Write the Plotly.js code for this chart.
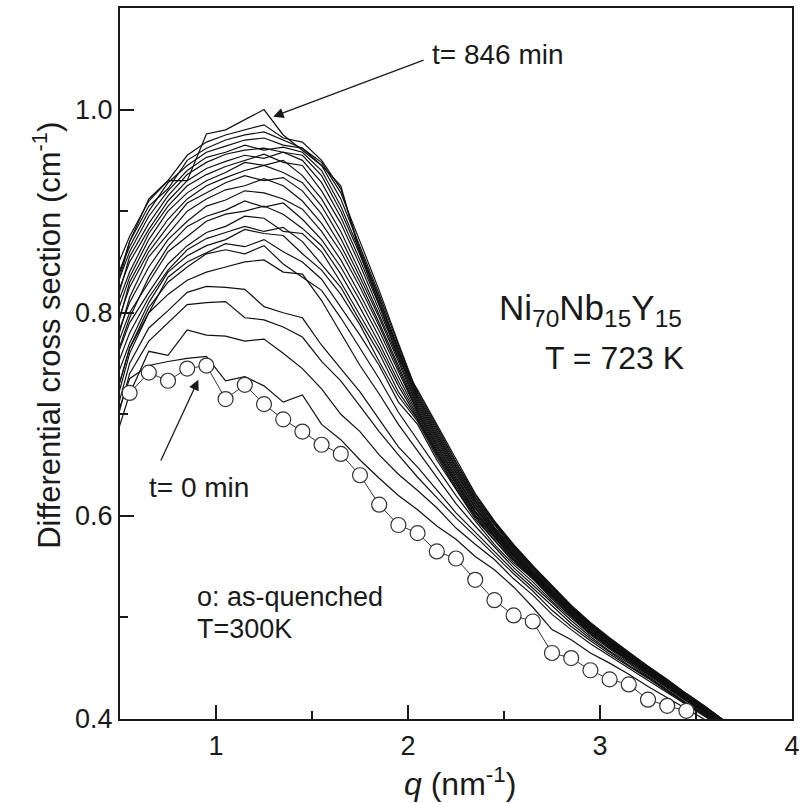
<!DOCTYPE html>
<html><head><meta charset="utf-8">
<script src="https://cdn.plot.ly/plotly-3.0.1.min.js"></script>
<style>html,body{margin:0;padding:0;background:#fff}#chart{width:807px;height:803px}</style>
</head><body><div id="chart"></div>
<script>
const qGrid = [0.45,0.55,0.65,0.75,0.85,0.95,1.05,1.15,1.25,1.35,1.45,1.55,1.65,1.75,1.85,1.95,2.05,2.15,2.25,2.35,2.45,2.55,2.65,2.75,2.85,2.95,3.05,3.15,3.25,3.35,3.45,3.55,3.65];

const c00 = [0.68,0.735,0.748,0.752,0.755,0.757,0.733,0.737,0.728,0.712,0.719,0.690,0.675,0.655,0.637,0.620,0.606,0.590,0.577,0.560,0.547,0.530,0.510,0.488,0.478,0.465,0.455,0.444,0.432,0.421,0.410,0.399,0.389];
const c01 = [0.66,0.72,0.762,0.758,0.783,0.778,0.777,0.772,0.774,0.760,0.745,0.725,0.700,0.683,0.660,0.641,0.625,0.608,0.588,0.572,0.557,0.538,0.522,0.503,0.488,0.474,0.462,0.450,0.438,0.426,0.414,0.402,0.390];
const c02 = [0.67,0.74,0.772,0.790,0.808,0.810,0.811,0.795,0.793,0.786,0.776,0.752,0.733,0.708,0.683,0.660,0.638,0.618,0.598,0.580,0.561,0.543,0.526,0.507,0.491,0.477,0.464,0.452,0.440,0.427,0.415,0.403,0.391];
const c03 = [0.68,0.75,0.785,0.802,0.820,0.826,0.825,0.823,0.806,0.800,0.795,0.768,0.745,0.722,0.695,0.668,0.648,0.625,0.603,0.584,0.565,0.546,0.529,0.511,0.494,0.479,0.466,0.453,0.441,0.428,0.415,0.403,0.391];
const c04 = [0.69,0.76,0.80,0.818,0.832,0.840,0.845,0.850,0.852,0.840,0.838,0.812,0.780,0.748,0.720,0.690,0.664,0.638,0.612,0.590,0.569,0.549,0.532,0.514,0.497,0.481,0.467,0.455,0.442,0.429,0.416,0.404,0.392];
const c05 = [0.70,0.765,0.805,0.830,0.845,0.858,0.862,0.858,0.866,0.848,0.835,0.822,0.795,0.765,0.735,0.702,0.675,0.648,0.620,0.595,0.572,0.552,0.535,0.516,0.499,0.483,0.469,0.456,0.443,0.430,0.417,0.404,0.392];
const c06 = [0.70,0.765,0.80,0.835,0.850,0.859,0.868,0.865,0.872,0.860,0.850,0.833,0.805,0.778,0.748,0.712,0.690,0.655,0.626,0.597,0.576,0.554,0.538,0.518,0.501,0.484,0.471,0.457,0.445,0.431,0.418,0.405,0.393];
const c07 = [0.72,0.77,0.81,0.84,0.856,0.866,0.872,0.882,0.878,0.876,0.858,0.842,0.818,0.788,0.752,0.718,0.693,0.658,0.627,0.599,0.576,0.556,0.538,0.519,0.501,0.485,0.470,0.458,0.444,0.432,0.419,0.406,0.393];
const c08 = [0.73,0.78,0.815,0.842,0.862,0.873,0.879,0.885,0.880,0.884,0.870,0.848,0.825,0.792,0.760,0.722,0.695,0.660,0.629,0.600,0.578,0.557,0.539,0.520,0.502,0.485,0.471,0.458,0.445,0.432,0.419,0.406,0.394];
const c09 = [0.74,0.79,0.82,0.848,0.866,0.879,0.885,0.895,0.893,0.880,0.878,0.860,0.830,0.798,0.765,0.728,0.696,0.662,0.631,0.601,0.579,0.558,0.540,0.521,0.503,0.486,0.472,0.458,0.445,0.432,0.419,0.406,0.394];
const c10 = [0.75,0.80,0.83,0.86,0.875,0.890,0.897,0.900,0.905,0.897,0.883,0.866,0.838,0.805,0.770,0.732,0.698,0.663,0.632,0.603,0.580,0.558,0.540,0.521,0.503,0.487,0.472,0.459,0.446,0.433,0.420,0.407,0.394];
const c11 = [0.74,0.795,0.835,0.865,0.885,0.895,0.901,0.910,0.904,0.908,0.892,0.872,0.845,0.812,0.776,0.737,0.700,0.665,0.634,0.604,0.581,0.560,0.541,0.522,0.504,0.487,0.473,0.459,0.446,0.433,0.420,0.407,0.394];
const c12 = [0.76,0.81,0.845,0.872,0.890,0.905,0.911,0.920,0.918,0.912,0.902,0.880,0.852,0.818,0.782,0.742,0.702,0.667,0.635,0.605,0.582,0.561,0.542,0.522,0.504,0.488,0.473,0.460,0.447,0.434,0.420,0.407,0.395];
const c13 = [0.75,0.815,0.855,0.878,0.900,0.912,0.921,0.925,0.932,0.925,0.910,0.888,0.860,0.825,0.787,0.745,0.703,0.669,0.637,0.607,0.583,0.561,0.542,0.523,0.505,0.488,0.474,0.460,0.447,0.434,0.421,0.408,0.395];
const c14 = [0.77,0.825,0.86,0.885,0.908,0.918,0.928,0.935,0.930,0.933,0.920,0.897,0.866,0.830,0.790,0.748,0.705,0.670,0.638,0.608,0.584,0.562,0.543,0.524,0.505,0.489,0.474,0.461,0.448,0.435,0.421,0.408,0.395];
const c15 = [0.76,0.83,0.865,0.892,0.912,0.925,0.933,0.940,0.945,0.938,0.928,0.905,0.873,0.835,0.795,0.752,0.707,0.672,0.640,0.609,0.585,0.563,0.544,0.524,0.506,0.489,0.475,0.461,0.448,0.435,0.421,0.408,0.395];
const c16 = [0.78,0.835,0.872,0.900,0.918,0.930,0.938,0.948,0.945,0.950,0.935,0.912,0.880,0.840,0.798,0.755,0.709,0.674,0.642,0.611,0.586,0.564,0.545,0.525,0.507,0.490,0.476,0.462,0.449,0.435,0.422,0.409,0.396];
const c17 = [0.79,0.84,0.878,0.905,0.925,0.936,0.944,0.950,0.956,0.948,0.945,0.920,0.888,0.847,0.803,0.758,0.711,0.676,0.643,0.612,0.587,0.565,0.545,0.526,0.507,0.491,0.476,0.462,0.449,0.436,0.422,0.409,0.396];
const c18 = [0.80,0.85,0.882,0.910,0.930,0.942,0.949,0.955,0.952,0.958,0.950,0.928,0.894,0.852,0.807,0.760,0.713,0.678,0.645,0.614,0.588,0.566,0.546,0.527,0.508,0.491,0.477,0.463,0.449,0.436,0.423,0.410,0.396];
const c19 = [0.79,0.855,0.888,0.915,0.936,0.948,0.956,0.960,0.962,0.958,0.955,0.935,0.900,0.857,0.810,0.762,0.715,0.680,0.647,0.615,0.589,0.567,0.547,0.527,0.509,0.492,0.477,0.463,0.450,0.437,0.423,0.410,0.397];
const c20 = [0.81,0.86,0.895,0.920,0.940,0.953,0.958,0.965,0.960,0.963,0.958,0.940,0.905,0.860,0.813,0.765,0.717,0.682,0.648,0.616,0.591,0.568,0.548,0.528,0.509,0.493,0.478,0.464,0.450,0.437,0.423,0.410,0.397];
const c21 = [0.82,0.865,0.90,0.928,0.945,0.958,0.964,0.970,0.972,0.965,0.962,0.945,0.912,0.865,0.818,0.768,0.718,0.684,0.650,0.618,0.592,0.569,0.549,0.529,0.510,0.493,0.478,0.464,0.451,0.438,0.424,0.411,0.397];
const c22 = [0.80,0.87,0.905,0.922,0.950,0.962,0.970,0.975,0.978,0.970,0.962,0.948,0.918,0.870,0.822,0.770,0.720,0.686,0.652,0.619,0.593,0.570,0.550,0.530,0.511,0.494,0.479,0.465,0.451,0.438,0.424,0.411,0.398];
const c23 = [0.83,0.875,0.91,0.93,0.955,0.968,0.975,0.980,0.985,0.972,0.968,0.950,0.922,0.862,0.815,0.762,0.722,0.688,0.653,0.621,0.594,0.571,0.550,0.530,0.511,0.494,0.479,0.465,0.452,0.439,0.425,0.412,0.398];
const c24 = [0.81,0.87,0.912,0.930,0.930,0.976,0.980,0.990,1.000,0.975,0.960,0.945,0.925,0.858,0.808,0.755,0.724,0.690,0.655,0.622,0.595,0.572,0.551,0.531,0.512,0.495,0.480,0.466,0.452,0.439,0.425,0.412,0.398];

const circQ = [0.55,0.65,0.75,0.85,0.95,1.05,1.15,1.25,1.35,1.45,1.55,1.65,1.75,1.85,1.95,2.05,2.15,2.25,2.35,2.45,2.55,2.65,2.75,2.85,2.95,3.05,3.15,3.25,3.35,3.45];
const circY = [0.721,0.741,0.733,0.745,0.748,0.715,0.729,0.710,0.695,0.683,0.670,0.661,0.640,0.611,0.591,0.583,0.565,0.558,0.537,0.517,0.502,0.496,0.465,0.460,0.448,0.439,0.434,0.419,0.413,0.408];

const xTickVals = [1,2,3,4];
const xTickText = ['1','2','3','4'];
const yTickVals = [0.4,0.6,0.8,1.0];
const yTickText = ['0.4','0.6','0.8','1.0'];

const curves = [c00,c01,c02,c03,c04,c05,c06,c07,c08,c09,c10,c11,c12,c13,c14,c15,c16,c17,c18,c19,c20,c21,c22,c23,c24];
const traces = curves.map(c => ({x: qGrid, y: c, type: 'scatter', mode: 'lines',
  line: {color: '#111', width: 1.2}, showlegend: false, hoverinfo: 'skip'}));
traces.push({x: circQ, y: circY, type: 'scatter', mode: 'lines+markers',
  line: {color: '#333', width: 1}, marker: {symbol: 'circle', size: 15, color: '#fff', line: {color: '#333', width: 1.2}},
  showlegend: false, hoverinfo: 'skip'});

const fam = 'Arial, "Liberation Sans", Helvetica, sans-serif';
const ink = '#1a1a1a';
const axisCommon = {showline: true, linewidth: 2, linecolor: ink, mirror: true, showgrid: false, zeroline: false,
  ticks: 'inside', ticklen: 14, tickwidth: 2, tickcolor: ink, tickfont: {family: fam, size: 27, color: ink}};

const layout = {
  width: 807, height: 803,
  margin: {l: 120, r: 15, t: 8, b: 84},
  paper_bgcolor: '#fff', plot_bgcolor: '#fff', showlegend: false,
  font: {family: fam, size: 24, color: ink},
  xaxis: Object.assign({}, axisCommon, {range: [0.5, 4], tickmode: 'array', tickvals: xTickVals, ticktext: xTickText,
    ticklabelstandoff: 2,
    minor: {tickvals: [1.5, 2.5, 3.5], ticks: 'inside', ticklen: 8, tickwidth: 2, tickcolor: ink, showgrid: false}}),
  yaxis: Object.assign({}, axisCommon, {range: [0.4, 1.1], tickmode: 'array', tickvals: yTickVals, ticktext: yTickText,
    ticklabelstandoff: 0,
    minor: {tickvals: [0.5, 0.7, 0.9], ticks: 'inside', ticklen: 8, tickwidth: 2, tickcolor: ink, showgrid: false}}),
  annotations: [
    {xref: 'paper', yref: 'paper', x: 0.506, y: -0.089, xanchor: 'center', yanchor: 'middle', showarrow: false,
      text: '<i>q</i> (nm<sup>-1</sup>)', font: {family: fam, size: 32, color: ink}},
    {xref: 'paper', yref: 'paper', x: -0.1086, y: 0.539, xanchor: 'center', yanchor: 'middle', showarrow: false, textangle: -90,
      text: 'Differential cross section (cm<sup>-1</sup>)', font: {family: fam, size: 31, color: ink}},
    {xref: 'x', yref: 'y', x: 1.298, y: 0.993, axref: 'x', ayref: 'y', ax: 2.089, ay: 1.0493, text: '', showarrow: true,
      arrowhead: 2, arrowsize: 1.6, arrowwidth: 1.3, arrowcolor: ink, standoff: 0},
    {xref: 'x', yref: 'y', x: 0.908, y: 0.734, axref: 'x', ayref: 'y', ax: 0.709, ay: 0.653, text: '', showarrow: true,
      arrowhead: 2, arrowsize: 1.6, arrowwidth: 1.3, arrowcolor: ink, standoff: 0},
    {xref: 'x', yref: 'y', x: 2.115, y: 1.0542, xanchor: 'left', yanchor: 'middle', showarrow: false,
      text: 't= 846 min', font: {family: fam, size: 28, color: ink}},
    {xref: 'x', yref: 'y', x: 0.641, y: 0.6276, xanchor: 'left', yanchor: 'middle', showarrow: false,
      text: 't= 0 min', font: {family: fam, size: 28, color: ink}},
    {xref: 'x', yref: 'y', x: 2.464, y: 0.803, xanchor: 'left', yanchor: 'middle', showarrow: false,
      text: 'Ni<sub>70</sub>Nb<sub>15</sub>Y<sub>15</sub>', font: {family: fam, size: 35, color: ink}},
    {xref: 'x', yref: 'y', x: 2.703, y: 0.7557, xanchor: 'left', yanchor: 'middle', showarrow: false,
      text: 'T = 723 K', font: {family: fam, size: 32, color: ink}},
    {xref: 'x', yref: 'y', x: 0.891, y: 0.520, xanchor: 'left', yanchor: 'middle', showarrow: false,
      text: 'o: as-quenched', font: {family: fam, size: 27, color: ink}},
    {xref: 'x', yref: 'y', x: 0.891, y: 0.4887, xanchor: 'left', yanchor: 'middle', showarrow: false,
      text: 'T=300K', font: {family: fam, size: 27, color: ink}}
  ]
};

Plotly.newPlot('chart', traces, layout, {displayModeBar: false, staticPlot: true});
</script>
</body></html>
